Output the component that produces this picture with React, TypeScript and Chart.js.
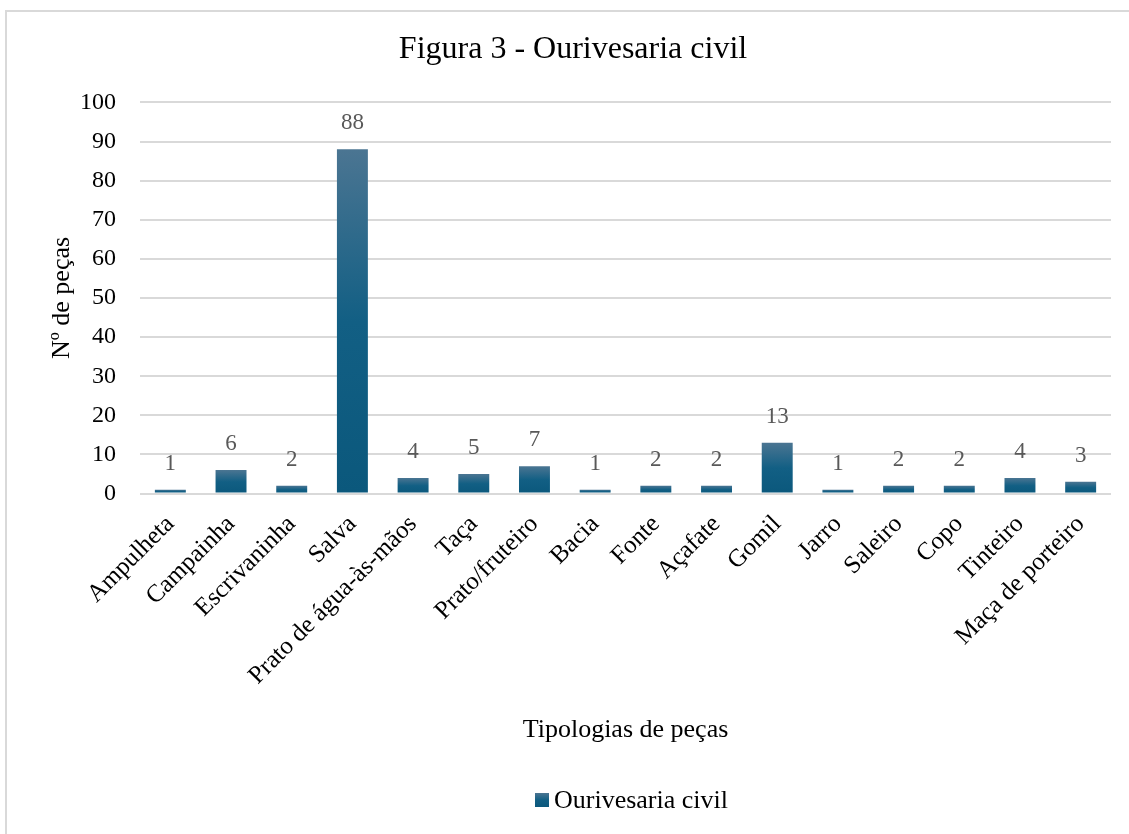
import React, { useEffect, useRef } from "react";
import { Chart, registerables } from "chart.js";

Chart.register(...registerables);

const chartTitle = "Figura 3 - Ourivesaria civil";
const xAxisTitle = "Tipologias de peças";
const yAxisTitle = "Nº de peças";
const seriesName = "Ourivesaria civil";
const categories = [
  "Ampulheta",
  "Campainha",
  "Escrivaninha",
  "Salva",
  "Prato de água-às-mãos",
  "Taça",
  "Prato/fruteiro",
  "Bacia",
  "Fonte",
  "Açafate",
  "Gomil",
  "Jarro",
  "Saleiro",
  "Copo",
  "Tinteiro",
  "Maça de porteiro",
];
const values = [1, 6, 2, 88, 4, 5, 7, 1, 2, 2, 13, 1, 2, 2, 4, 3];
const yMin = 0;
const yMax = 100;
const yStep = 10;

const FONT = '"Liberation Serif", "Times New Roman", serif';

function makeGradient(chart: any, top: number, bottom: number) {
  const g = chart.ctx.createLinearGradient(0, top, 0, bottom);
  g.addColorStop(0, "#4b7592");
  g.addColorStop(0.5, "#125f84");
  g.addColorStop(1, "#0b587c");
  return g;
}

const frame = {
  id: "frame",
  beforeDraw(chart: any) {
    const { ctx } = chart;
    ctx.save();
    ctx.fillStyle = "#ffffff";
    ctx.fillRect(0, 0, chart.width, chart.height);
    ctx.strokeStyle = "#d9d9d9";
    ctx.lineWidth = 2;
    ctx.beginPath();
    ctx.moveTo(6, chart.height + 5);
    ctx.lineTo(6, 11);
    ctx.lineTo(chart.width + 5, 11);
    ctx.stroke();
    ctx.restore();
  },
};

const valueLabels = {
  id: "valueLabels",
  afterDatasetsDraw(chart: any) {
    const { ctx } = chart;
    const meta = chart.getDatasetMeta(0);
    ctx.save();
    ctx.font = `23px ${FONT}`;
    ctx.fillStyle = "#595959";
    ctx.textAlign = "center";
    ctx.textBaseline = "middle";
    meta.data.forEach((bar: any, i: number) => {
      ctx.fillText(String(values[i]), bar.x, bar.y - 26);
    });
    ctx.restore();
  },
};

const bottomLegend = {
  id: "bottomLegend",
  afterDraw(chart: any) {
    const { ctx, chartArea } = chart;
    const cy = 800;
    ctx.save();
    ctx.font = `26px ${FONT}`;
    const tw = ctx.measureText(seriesName).width;
    const box = 14;
    const gap = 5;
    const total = box + gap + tw;
    const x0 = (chartArea.left + chartArea.right) / 2 + 6 - total / 2;
    ctx.fillStyle = makeGradient(chart, cy - box / 2, cy + box / 2);
    ctx.fillRect(x0, cy - box / 2, box, box);
    ctx.fillStyle = "#000000";
    ctx.textAlign = "left";
    ctx.textBaseline = "middle";
    ctx.fillText(seriesName, x0 + box + gap, cy + 1);
    ctx.restore();
  },
};

function barGradient(c: any) {
  const chart = c.chart;
  const y = chart.scales && chart.scales.y;
  if (c.type !== "data" || !y) return "#1f6488";
  const top = y.getPixelForValue(c.raw);
  const bottom = y.getPixelForValue(0);
  if (!isFinite(top) || !isFinite(bottom) || top === bottom) return "#1f6488";
  return makeGradient(chart, top, bottom);
}

export default function App() {
  const ref = useRef<HTMLCanvasElement | null>(null);
  useEffect(() => {
    if (!ref.current) return;
    const chart = new Chart(ref.current, {
      type: "bar",
      data: {
        labels: categories,
        datasets: [
          {
            label: seriesName,
            data: values,
            backgroundColor: barGradient as any,
            borderWidth: 0,
            barPercentage: 0.51,
            categoryPercentage: 1,
          },
        ],
      },
      plugins: [frame, valueLabels, bottomLegend],
      options: {
        animation: false,
        responsive: false,
        maintainAspectRatio: false,
        devicePixelRatio: 1,
        layout: { padding: { left: 35, right: 18, top: 24, bottom: 78 } },
        plugins: {
          title: {
            display: true,
            text: chartTitle,
            color: "#000000",
            font: { family: FONT, size: 32, weight: "normal" },
            padding: { top: 6, bottom: 34 },
          },
          legend: { display: false },
          tooltip: { enabled: false },
        },
        scales: {
          x: {
            grid: { display: false, drawTicks: false },
            border: { display: false },
            afterFit: (s: any) => {
              s.paddingLeft = 0;
              s.paddingRight = 0;
            },
            ticks: {
              color: "#000000",
              font: { family: FONT, size: 25 },
              minRotation: 45,
              maxRotation: 45,
              autoSkip: false,
              padding: 16,
            },
            title: {
              display: true,
              text: xAxisTitle,
              color: "#000000",
              font: { family: FONT, size: 26 },
              padding: { top: 8, bottom: 10 },
            },
          },
          y: {
            min: yMin,
            max: yMax,
            grid: { color: "#d9d9d9", lineWidth: 2, drawTicks: false },
            border: { display: false },
            afterFit: (s: any) => {
              s.width = 105;
            },
            ticks: {
              stepSize: yStep,
              color: "#000000",
              font: { family: FONT, size: 24 },
              padding: 24,
            },
            title: {
              display: true,
              text: yAxisTitle,
              color: "#000000",
              font: { family: FONT, size: 26 },
              padding: { top: 12, bottom: 2 },
            },
          },
        },
      },
    });
    return () => chart.destroy();
  }, []);
  return (
    <canvas
      ref={ref}
      width={1129}
      height={834}
      style={{ position: "fixed", left: 0, top: 0, width: 1129, height: 834 }}
    />
  );
}
